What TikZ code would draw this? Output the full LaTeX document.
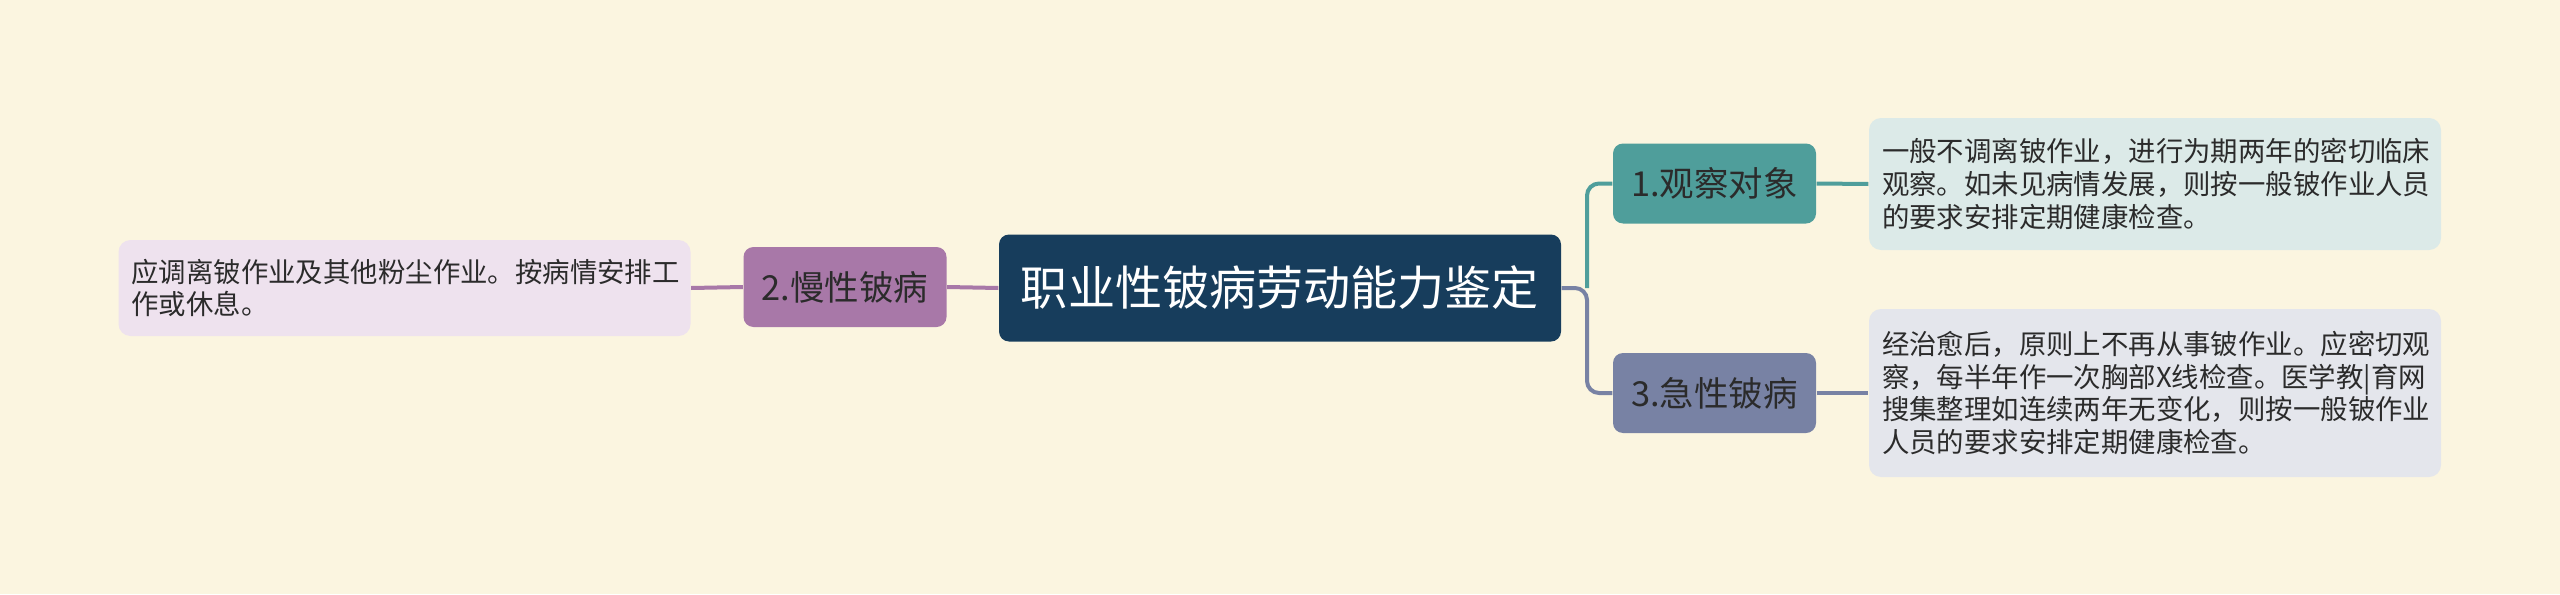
\documentclass[tikz,border=0pt]{standalone}
\usepackage{fontspec}
\setmainfont{Noto Sans CJK SC}
\definecolor{bgcol}{HTML}{FBF5E0}
\definecolor{rootcol}{HTML}{173D5C}
\definecolor{tealcol}{HTML}{4F9E9B}
\definecolor{tealpale}{HTML}{DCEAE8}
\definecolor{slatecol}{HTML}{7882A4}
\definecolor{slatepale}{HTML}{E4E6EC}
\definecolor{plumcol}{HTML}{A878A8}
\definecolor{plumpale}{HTML}{EEE2EE}
\definecolor{inkcol}{HTML}{2B2B2B}

\begin{document}
\begin{tikzpicture}[
		rootbox/.style={fill=rootcol, rounded corners=0.1cm, text=white, minimum width=5.62cm, minimum height=1.07cm, inner sep=0pt, font=\fontsize{13.4pt}{16pt}\selectfont},
		topicbox/.style={rounded corners=0.1cm, text=inkcol, minimum width=2.03cm, minimum height=0.80cm, inner sep=0pt, font=\fontsize{9.8pt}{12pt}\selectfont},
		notebox/.style={rounded corners=0.12cm, text=inkcol, text width=5.46cm, align=left, inner xsep=0.13cm, minimum height=#1, font=\fontsize{7.8pt}{9.35pt}\selectfont},
		link/.style={line width=0.04cm, rounded corners=0.12cm}
	]
		\fill[bgcol] (0,0) rectangle (25.6,5.94);
		\useasboundingbox (0,0) rectangle (25.6,5.94);

		\node[rootbox] (root) at (12.80,3.06) {职业性铍病劳动能力鉴定};

		\node[topicbox, fill=plumcol] (chronic) at (8.45,3.07) {2.慢性铍病};
		\node[notebox=0.96cm, fill=plumpale] (chronicnote) at (4.045,3.06) {应调离铍作业及其他粉尘作业。按病情安排工\\作或休息。};

		\node[topicbox, fill=tealcol] (observe) at (17.145,4.105) {1.观察对象};
		\node[notebox=1.32cm, fill=tealpale] (observenote) at (21.55,4.10) {一般不调离铍作业，进行为期两年的密切临床\\观察。如未见病情发展，则按一般铍作业人员\\的要求安排定期健康检查。};

		\node[topicbox, fill=slatecol] (acute) at (17.145,2.01) {3.急性铍病};
		\node[notebox=1.68cm, fill=slatepale] (acutenote) at (21.55,2.01) {经治愈后，原则上不再从事铍作业。应密切观\\察，每半年作一次胸部X线检查。医学教|育网\\搜集整理如连续两年无变化，则按一般铍作业\\人员的要求安排定期健康检查。};

		\coordinate (fork) at (15.87,3.06);
		\draw[link, slatecol] (root.east) -- (fork) |- (acute.west);
		\draw[link, tealcol] (fork) |- (observe.west);
		\draw[link, tealcol] (observe.east) -- (observenote.west);
		\draw[link, slatecol] (acute.east) -- (acutenote.west);
		\draw[link, plumcol] (root.west) -- (chronic.east);
		\draw[link, plumcol] (chronic.west) -- (chronicnote.east);
	\end{tikzpicture}
\end{document}
